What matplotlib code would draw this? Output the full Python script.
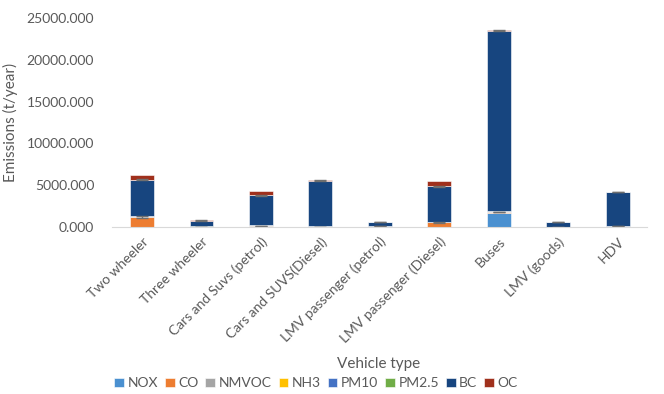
import matplotlib.pyplot as plt
import numpy as np

plt.rcParams['font.family'] = ['Lato', 'DejaVu Sans']

vehicles = ['Two wheeler', 'Three wheeler', 'Cars and Suvs (petrol)',
            'Cars and SUVS(Diesel)', 'LMV passenger (petrol)',
            'LMV passenger (Diesel)', 'Buses', 'LMV (goods)', 'HDV']
pollutants = ['NOX', 'CO', 'NMVOC', 'NH3', 'PM10', 'PM2.5', 'BC', 'OC']
colors = ['#4a90d0', '#ed7d31', '#a5a5a5', '#ffc000', '#4472c4',
          '#70ad47', '#17457f', '#a0301c']

nox = [40, 10, 20, 20, 10, 30, 1700, 10, 20]
co = [1150, 30, 150, 30, 60, 550, 60, 20, 40]
nmvoc = [150, 10, 30, 10, 10, 40, 150, 10, 20]
nh3 = [5, 1, 5, 2, 1, 3, 10, 1, 3]
pm10 = [10, 2, 5, 10, 2, 10, 20, 2, 10]
pm25 = [10, 2, 5, 10, 2, 10, 20, 2, 10]
bc = [4300, 700, 3600, 5470, 520, 4250, 21550, 570, 4090]
oc = [500, 60, 480, 60, 40, 600, 90, 20, 40]
err_co = [120, 0, 0, 0, 0, 60, 0, 0, 0]
err_bc = [60, 40, 60, 40, 30, 60, 60, 30, 40]

series = [nox, co, nmvoc, nh3, pm10, pm25, bc, oc]

fig = plt.figure(figsize=(6.64, 3.94), dpi=100)
ax = fig.add_axes([0.169, 0.424, 0.806, 0.53])

x = np.arange(len(vehicles))
bottom = np.zeros(len(vehicles))
tops = {}
for name, vals, c in zip(pollutants, series, colors):
    ax.bar(x, vals, 0.4, bottom=bottom, color=c, label=name,
           edgecolor='white', linewidth=0.4)
    bottom = bottom + np.array(vals)
    tops[name] = bottom.copy()

ax.errorbar(x, tops['CO'], yerr=err_co, fmt='none', ecolor='#6f6f6f',
            capsize=4, elinewidth=1)
ax.errorbar(x, tops['BC'], yerr=err_bc, fmt='none', ecolor='#6f6f6f',
            capsize=4, elinewidth=1)

ax.set_xlim(-0.5, len(vehicles) - 0.5)
ax.set_ylim(0, 25000)
ax.set_yticks(np.arange(0, 25001, 5000))
ax.set_yticklabels(['%.3f' % v for v in np.arange(0, 25001, 5000)])
ax.set_xticks(x)
ax.set_xticklabels(vehicles, rotation=45, ha='right', rotation_mode='anchor')
ax.tick_params(axis='both', length=0, colors='#595959', labelsize=10)
ax.tick_params(axis='x', pad=6)
ax.tick_params(axis='y', pad=13)
for s in ['top', 'right', 'left']:
    ax.spines[s].set_visible(False)
ax.spines['bottom'].set_color('#d9d9d9')

ax.set_ylabel('Emissions (t/year)', color='#595959', fontsize=11)
ax.yaxis.set_label_coords(-0.176, 0.5)
fig.text(0.57, 0.065, 'Vehicle type', ha='center', color='#595959', fontsize=11)

fig.legend(loc='center', bbox_to_anchor=(0.476, 0.027), ncol=8, frameon=False,
           fontsize=10, handlelength=0.7, handleheight=0.7, handletextpad=0.25,
           columnspacing=0.5, labelcolor='#595959')

fig.savefig('out.png', dpi=100)
